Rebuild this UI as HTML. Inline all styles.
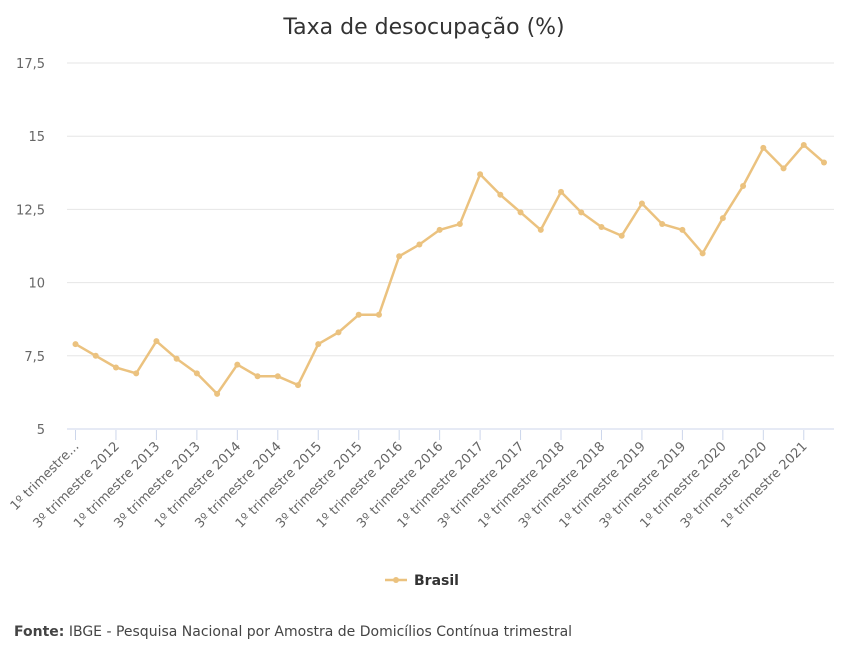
<!DOCTYPE html>
<html><head><meta charset="utf-8"><style>
body{margin:0;background:#fff;font-family:"DejaVu Sans","Liberation Sans",sans-serif;}
svg text{font-family:"DejaVu Sans","Liberation Sans",sans-serif;}
</style></head><body>
<svg id="chart" width="849" height="667" xmlns="http://www.w3.org/2000/svg">
<text x="424" y="34" text-anchor="middle" font-size="22" fill="#333">Taxa de desocupação (%)</text>
<g id="grid"></g><g id="xaxis"></g><g id="series"></g>
<g>
<line x1="385" y1="580" x2="407" y2="580" stroke="#ebc27f" stroke-width="2.5"/>
<circle cx="396" cy="580" r="3" fill="#ebc27f"/>
<text x="414" y="585" font-size="14" font-weight="bold" fill="#333">Brasil</text>
</g>
<text x="14" y="636" font-size="14" fill="#444"><tspan font-weight="bold">Fonte:</tspan> IBGE - Pesquisa Nacional por Amostra de Domicílios Contínua trimestral</text>
</svg>
<script>
const years=[2012,2013,2014,2015,2016,2017,2018,2019,2020,2021];
const values=[7.9,7.5,7.1,6.9,8.0,7.4,6.9,6.2,7.2,6.8,6.8,6.5,7.9,8.3,8.9,8.9,10.9,11.3,11.8,12.0,13.7,13.0,12.4,11.8,13.1,12.4,11.9,11.6,12.7,12.0,11.8,11.0,12.2,13.3,14.6,13.9,14.7,14.1];
const yTicks=[5,7.5,10,12.5,15,17.5];
const yTickLabels=["5","7,5","10","12,5","15","17,5"];
const categories=[];
years.forEach(y=>{for(let q=1;q<=4;q++)categories.push(q+"º trimestre "+y);});
const NS="http://www.w3.org/2000/svg";
const x0=75.5,x1=824,yTop=63,yBot=429,yMin=5,yMax=17.5;
const xs=i=>x0+i*(x1-x0)/(values.length-1);
const ys=v=>yBot-(v-yMin)/(yMax-yMin)*(yBot-yTop);
function mk(t,a,p){const e=document.createElementNS(NS,t);for(const k in a)e.setAttribute(k,a[k]);p.appendChild(e);return e;}
const grid=document.getElementById('grid');
yTicks.forEach((t,i)=>{
 const l=mk('line',{x1:67,x2:834,y1:ys(t),y2:ys(t),stroke:i==0?'#ccd6eb':'#e6e6e6','stroke-width':1},grid);
 
 
 const tx=mk('text',{x:45,y:ys(t)+5,'text-anchor':'end','font-size':13,fill:'#666'},grid);
 tx.textContent=yTickLabels[i];
 
 
});
const xa=document.getElementById('xaxis');
for(let i=0;i<values.length;i+=2){
 const x=xs(i);
 const tk=mk('line',{x1:x,x2:x,y1:430,y2:440,stroke:'#ccd6eb'},xa);
 
 
 let lab=categories[i]; if(i==0)lab="1º trimestre...";
 const tx=mk('text',{x:x+4,y:447,'text-anchor':'end','font-size':13,fill:'#666',transform:`rotate(-45 ${x+4} 447)`},xa);
 tx.textContent=lab;
 
 
}
const s=document.getElementById('series');
const pl=mk('polyline',{points:values.map((v,i)=>xs(i)+","+ys(v)).join(" "),fill:'none',stroke:'#ebc27f','stroke-width':2.5,'stroke-linejoin':'round'},s);


values.forEach((v,i)=>{
 const c=mk('circle',{cx:xs(i),cy:ys(v),r:3,fill:'#ebc27f'},s);
 
 
});
</script>
</body></html>
